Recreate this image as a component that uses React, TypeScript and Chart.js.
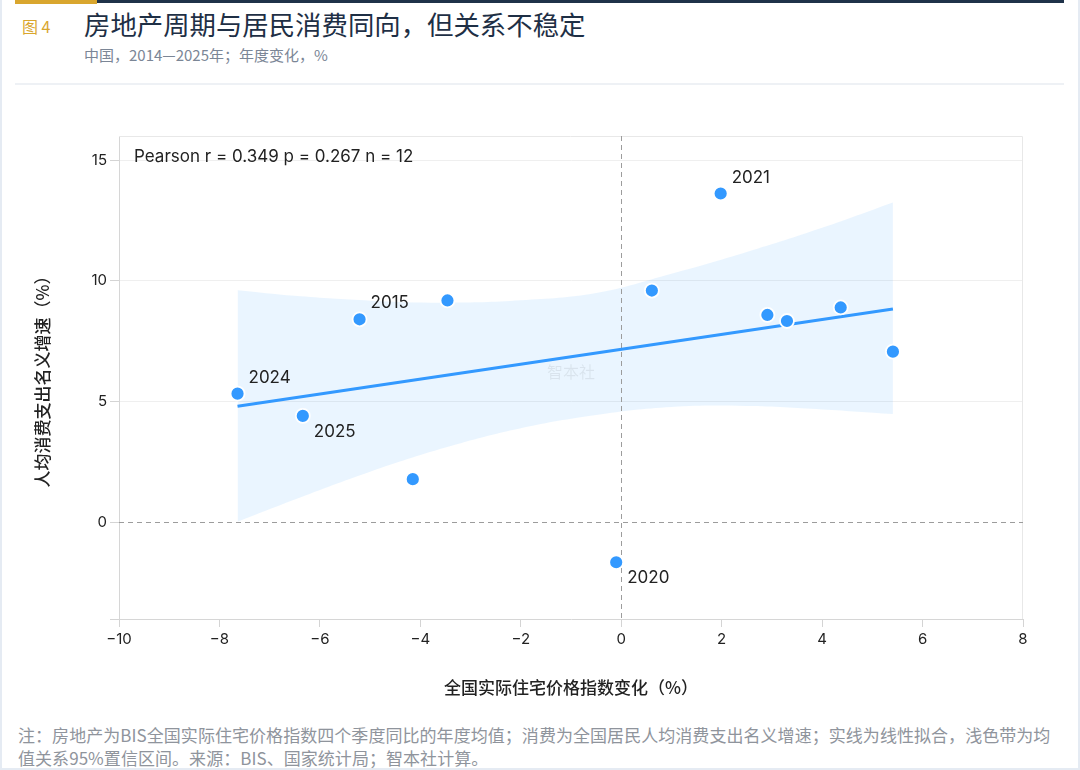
import React, { useEffect, useRef } from "react";
import { Chart, registerables } from "chart.js";

Chart.register(...registerables);

// ---------- data ----------
const housePrice = [-7.64, -6.34, -5.21, -3.46, -4.15, -0.1, 0.61, 1.98, 2.91, 3.3, 4.37, 5.41];
const consumption = [5.33, 4.41, 8.41, 9.19, 1.79, -1.65, 9.6, 13.62, 8.59, 8.34, 8.9, 7.07];
const pointLabels = ["2024", "2025", "2015", "", "", "2020", "", "2021", "", "", "", ""];

const fitX = [-7.64, 5.41];
const fitY = [4.81, 8.84];

const bandX = [-7.64, -6.5, -5, -3.5, -2, -0.5, 1, 2.5, 4, 5.41];
const bandUpper = [9.61, 9.38, 9.18, 9.1, 9.2, 9.5, 10.3, 11.2, 12.2, 13.25];
const bandLower = [0.03, 0.95, 2.1, 3.1, 3.9, 4.45, 4.78, 4.82, 4.68, 4.49];

const xTicks = [-10, -8, -6, -4, -2, 0, 2, 4, 6, 8];
const yTicks = [-4, 0, 5, 10, 15];

const FIG_NO = "图 4";
const TITLE = "房地产周期与居民消费同向，但关系不稳定";
const SUBTITLE = "中国，2014—2025年；年度变化，%";
const X_TITLE = "全国实际住宅价格指数变化（%）";
const Y_TITLE = "人均消费支出名义增速（%）";
const STAT_TEXT = "Pearson r = 0.349 p = 0.267 n = 12";
const WATERMARK = "智本社";
const NOTE_1 = "注：房地产为BIS全国实际住宅价格指数四个季度同比的年度均值；消费为全国居民人均消费支出名义增速；实线为线性拟合，浅色带为均";
const NOTE_2 = "值关系95%置信区间。来源：BIS、国家统计局；智本社计算。";

// label placement (style, not data)
const labelBelow: Record<string, boolean> = { "2024": false, "2025": true, "2015": false, "2020": true, "2021": false };

const LATIN = "Inter, 'Noto Sans CJK SC', sans-serif";
const CJK = "'Noto Sans CJK SC', Inter, sans-serif";
const BLUE = "#3399ff";

const fmt = (v: number) => (v < 0 ? "\u2212" + Math.abs(v) : String(v));

export default function App() {
  const ref = useRef<HTMLCanvasElement>(null);

  useEffect(() => {
    document.body.style.margin = "0";
    const canvas = ref.current;
    if (!canvas) return;

    const decor = {
      id: "decor",
      beforeDatasetsDraw(chart: any) {
        const { ctx, chartArea: a, scales } = chart;
        const x = scales.x;
        const y = scales.y;
        ctx.save();
        // frame top & right
        ctx.strokeStyle = "#e8e8e8";
        ctx.lineWidth = 1;
        ctx.beginPath();
        ctx.moveTo(a.left, a.top + 0.5);
        ctx.lineTo(a.right - 0.5, a.top + 0.5);
        ctx.lineTo(a.right - 0.5, a.bottom);
        ctx.stroke();
        // watermark
        ctx.font = `16px ${CJK}`;
        ctx.fillStyle = "rgba(0,0,0,0.07)";
        ctx.textAlign = "center";
        ctx.textBaseline = "middle";
        ctx.fillText(WATERMARK, (a.left + a.right) / 2, (a.top + a.bottom) / 2 - 6);
        // zero lines
        ctx.strokeStyle = "#9c9c9c";
        ctx.setLineDash([5, 4]);
        const y0 = Math.round(y.getPixelForValue(0)) + 0.5;
        ctx.beginPath();
        ctx.moveTo(a.left, y0);
        ctx.lineTo(a.right, y0);
        ctx.stroke();
        const x0 = Math.round(x.getPixelForValue(0)) + 0.5;
        ctx.beginPath();
        ctx.moveTo(x0, a.top);
        ctx.lineTo(x0, a.bottom);
        ctx.stroke();
        ctx.restore();
      },
      afterDatasetsDraw(chart: any) {
        const { ctx, chartArea: a } = chart;
        ctx.save();
        ctx.font = `17px ${LATIN}`;
        ctx.fillStyle = "#222";
        ctx.textAlign = "left";
        ctx.textBaseline = "middle";
        ctx.fillText(STAT_TEXT, a.left + 15, a.top + 21);
        const meta = chart.getDatasetMeta(0);
        meta.data.forEach((pt: any, i: number) => {
          const lab = pointLabels[i];
          if (!lab) return;
          const dy = labelBelow[lab] ? 16 : -16;
          ctx.fillText(lab, pt.x + 11, pt.y + dy);
        });
        ctx.restore();
      },
    };

    const chart = new Chart(canvas, {
      type: "scatter",
      data: {
        datasets: [
          {
            label: "points",
            data: housePrice.map((v, i) => ({ x: v, y: consumption[i] })),
            backgroundColor: BLUE,
            borderColor: "#ffffff",
            borderWidth: 1.8,
            pointRadius: 7,
            pointHoverRadius: 7,
          } as any,
          {
            type: "line",
            label: "fit",
            data: fitX.map((v, i) => ({ x: v, y: fitY[i] })),
            borderColor: BLUE,
            borderWidth: 3,
            pointRadius: 0,
            fill: false,
          } as any,
          {
            type: "line",
            label: "upper",
            data: bandX.map((v, i) => ({ x: v, y: bandUpper[i] })),
            borderWidth: 0,
            borderColor: "rgba(0,0,0,0)",
            backgroundColor: "rgba(51,153,255,0.1)",
            pointRadius: 0,
            tension: 0.4,
            fill: "+1",
          } as any,
          {
            type: "line",
            label: "lower",
            data: bandX.map((v, i) => ({ x: v, y: bandLower[i] })),
            borderWidth: 0,
            borderColor: "rgba(0,0,0,0)",
            pointRadius: 0,
            tension: 0.4,
            fill: false,
          } as any,
        ],
      },
      options: {
        animation: false,
        responsive: false,
        events: [],
        layout: { padding: { left: 20, top: 36, right: 41, bottom: 6 } },
        plugins: {
          legend: { display: false },
          tooltip: { enabled: false },
          filler: { drawTime: "beforeDatasetsDraw" } as any,
        },
        scales: {
          x: {
            type: "linear",
            min: -10,
            max: 8,
            afterBuildTicks: (s: any) => {
              s.ticks = xTicks.map((v) => ({ value: v }));
            },
            afterFit: (s: any) => {
              s.height = 95;
            },
            ticks: {
              color: "#222",
              font: { family: LATIN, size: 15 },
              padding: 3,
              callback: (v: any) => fmt(Number(v)),
            },
            grid: { drawOnChartArea: false, drawTicks: true, tickLength: 8, color: "#d4d4d4", tickColor: "#d4d4d4" },
            border: { display: true, color: "#d6d6d6" },
            title: {
              display: true,
              text: X_TITLE,
              color: "#222",
              font: { family: CJK, size: 17, weight: "500" },
              padding: { top: 0, bottom: 16 },
            },
          },
          y: {
            type: "linear",
            min: -4,
            max: 16,
            afterBuildTicks: (s: any) => {
              s.ticks = yTicks.map((v) => ({ value: v }));
            },
            afterFit: (s: any) => {
              s.width = 99;
            },
            ticks: {
              color: "#222",
              font: { family: LATIN, size: 15 },
              padding: 3,
              callback: (v: any) => (Number(v) === -4 ? "" : fmt(Number(v))),
            },
            grid: {
              tickLength: 9,
              color: (c: any) => (c.tick && (c.tick.value === 0 || c.tick.value === -4) ? "rgba(0,0,0,0)" : "#efefef"),
              tickColor: "#d4d4d4",
            },
            border: { display: true, color: "#d6d6d6" },
            title: {
              display: true,
              text: Y_TITLE,
              color: "#222",
              font: { family: CJK, size: 17, weight: "500" },
              padding: { top: 12, bottom: 0 },
            },
          },
        },
      },
      plugins: [decor],
    });

    return () => chart.destroy();
  }, []);

  const abs = (s: React.CSSProperties): React.CSSProperties => ({ position: "absolute", ...s });

  return (
    <div style={abs({ left: 0, top: 0, width: 1080, height: 770, background: "#fff", overflow: "hidden", fontFamily: CJK })}>
      <div style={abs({ left: 0, top: 0, width: 2, height: 770, background: "#e5ebf3" })} />
      <div style={abs({ left: 1078, top: 0, width: 2, height: 770, background: "#e5ebf3" })} />
      <div style={abs({ left: 0, top: 768, width: 1080, height: 2, background: "#e5ebf3" })} />
      <div style={abs({ left: 97, top: 0, width: 967, height: 3, background: "#1f3249" })} />
      <div style={abs({ left: 15, top: 0, width: 82, height: 4, background: "#d9a62e" })} />
      <div style={abs({ left: 22, top: 15, lineHeight: "22px", fontSize: 16, color: "#d9a62e", whiteSpace: "nowrap" })}>{FIG_NO}</div>
      <div style={abs({ left: 84, top: 8, lineHeight: "32px", fontSize: 26.4, color: "#1e2f45", fontWeight: 400, whiteSpace: "nowrap" })}>{TITLE}</div>
      <div style={abs({ left: 84, top: 45, lineHeight: "20px", fontSize: 15, color: "#7b8696", whiteSpace: "nowrap" })}>{SUBTITLE}</div>
      <div style={abs({ left: 15, top: 83, width: 1049, height: 2, background: "#eef1f5" })} />
      <canvas ref={ref} width={1064} height={620} style={abs({ left: 0, top: 100, width: 1064, height: 620 })} />
      <div style={abs({ left: 18, top: 723, lineHeight: "23px", fontSize: 17, letterSpacing: "0.05px", color: "#8f949c", whiteSpace: "nowrap" })}>{NOTE_1}</div>
      <div style={abs({ left: 18, top: 746, lineHeight: "23px", fontSize: 17, letterSpacing: "0.05px", color: "#8f949c", whiteSpace: "nowrap" })}>{NOTE_2}</div>
    </div>
  );
}
